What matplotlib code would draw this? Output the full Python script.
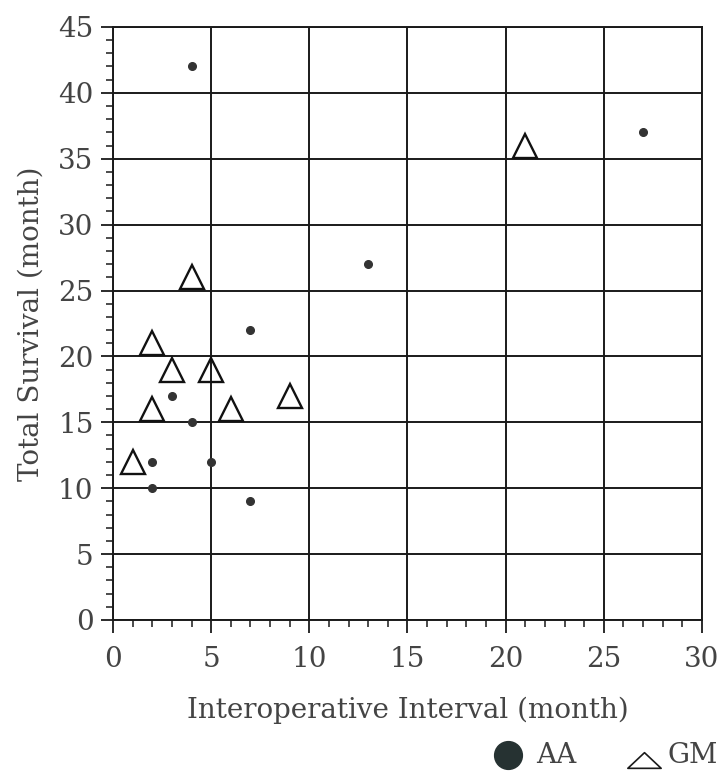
import matplotlib.pyplot as plt
from matplotlib.lines import Line2D
from matplotlib.path import Path
from matplotlib.ticker import MultipleLocator

# AA group (filled dots)
aa_interval = [4, 27, 13, 7, 3, 4, 2, 5, 2, 7]
aa_survival = [42, 37, 27, 22, 17, 15, 12, 12, 10, 9]

# GM group (open triangles)
gm_interval = [4, 2, 3, 5, 2, 6, 9, 1, 21]
gm_survival = [26, 21, 19, 19, 16, 16, 17, 12, 36]

txt = '#444444'
line = '#1a1a1a'
plt.rcParams['font.family'] = ['DejaVu Serif', 'DejaVu Sans']

fig = plt.figure(figsize=(7.22, 7.77), dpi=100)
ax = fig.add_axes([0.1565, 0.2021, 0.8158, 0.7632])

ax.plot(aa_interval, aa_survival, 'o', color='#333333', markersize=5.5,
        linestyle='none', zorder=3)
ax.plot(gm_interval, gm_survival, '^', markersize=17.5, markeredgewidth=1.7,
        markerfacecolor='none', markeredgecolor='#111111',
        linestyle='none', zorder=3)

ax.set_xlim(0, 30)
ax.set_ylim(0, 45)
ax.xaxis.set_major_locator(MultipleLocator(5))
ax.xaxis.set_minor_locator(MultipleLocator(1))
ax.yaxis.set_major_locator(MultipleLocator(5))
ax.yaxis.set_minor_locator(MultipleLocator(1))

ax.grid(True, which='major', color=line, linewidth=1.4)
for s in ax.spines.values():
    s.set_color(line)
    s.set_linewidth(1.4)

ax.tick_params(which='major', direction='out', length=9, width=1.3,
               color=line, labelsize=20, labelcolor=txt)
ax.tick_params(axis='x', which='major', pad=10)
ax.tick_params(axis='y', which='major', pad=5)
ax.tick_params(which='minor', direction='out', length=5, width=1.1,
               color=line)

ax.set_xlabel('Interoperative Interval (month)', fontsize=20,
              color=txt, labelpad=17)
ax.set_ylabel('Total Survival (month)', fontsize=20, color=txt,
              labelpad=10)

# legend row under the x label
flat_tri = Path([(-1, -0.47), (1, -0.47), (0, 0.47), (-1, -0.47)],
                [Path.MOVETO, Path.LINETO, Path.LINETO, Path.CLOSEPOLY])
fig.add_artist(Line2D([0.7036], [0.0283], transform=fig.transFigure,
                      marker='o', markersize=20, color='#263232',
                      linestyle='none'))
fig.text(0.743, 0.0283, 'AA', fontsize=20, color=txt, va='center',
         ha='left')
fig.add_artist(Line2D([0.892], [0.0225], transform=fig.transFigure,
                      marker=flat_tri, markersize=24, markerfacecolor='none',
                      markeredgecolor=line, markeredgewidth=1.2,
                      linestyle='none'))
fig.text(0.924, 0.0283, 'GM', fontsize=20, color=txt, va='center',
         ha='left')

fig.savefig('out.png', dpi=100)
